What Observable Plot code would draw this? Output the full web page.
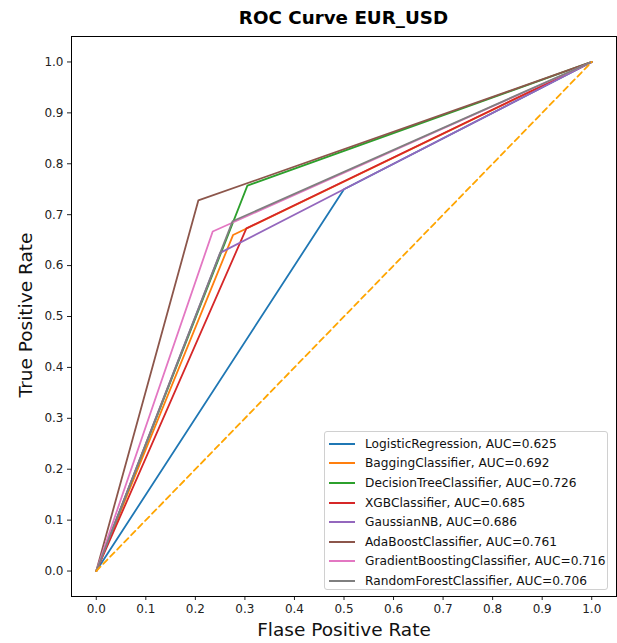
<!DOCTYPE html>
<html>
<head>
<meta charset="utf-8">
<script src="https://cdn.jsdelivr.net/npm/d3@7"></script>
<script src="https://cdn.jsdelivr.net/npm/@observablehq/plot@0.6"></script>
<style>
  body { margin: 0; background: #fff; font-family: "DejaVu Sans", sans-serif; }
  #wrap { position: relative; width: 617px; height: 643px; }
  #title { height: 30px; width: 545px; margin-left: 71px; text-align: center; font-weight: bold; font-size: 18.3px; line-height: 30px; padding-top: 3px; box-sizing: border-box; color: #000; }
  .axlabel { position: absolute; font-size: 18.5px; color: #111; white-space: nowrap; }
  #legend { position: absolute; left: 324px; top: 431px; width: 284px; height: 159px; border: 1px solid #d0d0d0; border-radius: 3px; background: rgba(255,255,255,0.85); box-sizing: border-box; padding: 2px 0 0 0; }
  .row { height: 19.6px; display: flex; align-items: center; font-size: 12.2px; color: #111; }
  .sw { width: 26px; height: 0; border-top: 2px solid; margin-left: 4px; margin-right: 10px; }
</style>
</head>
<body>
<div id="wrap">
  <div id="title">ROC Curve EUR_USD</div>
  <div id="chart"></div>
  <div class="axlabel" id="xlab" style="left:0;width:617px;padding-left:71px;box-sizing:border-box;text-align:center;top:619px;">Flase Positive Rate</div>
  <div class="axlabel" id="ylab" style="left:25px;top:315px;transform:translate(-50%,-50%) rotate(-90deg);">True Positive Rate</div>
  <div id="legend"></div>
</div>
<script>
const models = ["LogisticRegression", "BaggingClassifier", "DecisionTreeClassifier", "XGBClassifier", "GaussianNB", "AdaBoostClassifier", "GradientBoostingClassifier", "RandomForestClassifier"];
const aucs = [0.625, 0.692, 0.726, 0.685, 0.686, 0.761, 0.716, 0.706];
const colors = ["#1f77b4", "#ff7f0e", "#2ca02c", "#d62728", "#9467bd", "#8c564b", "#e377c2", "#7f7f7f"];
const fprs = [
  [0, 0.5, 1],
  [0, 0.276, 1],
  [0, 0.305, 1],
  [0, 0.303, 1],
  [0, 0.25, 0.5, 1],
  [0, 0.206, 1],
  [0, 0.235, 1],
  [0, 0.275, 1]
];
const tprs = [
  [0, 0.75, 1],
  [0, 0.66, 1],
  [0, 0.757, 1],
  [0, 0.673, 1],
  [0, 0.625, 0.75, 1],
  [0, 0.728, 1],
  [0, 0.667, 1],
  [0, 0.687, 1]
];
const diagX = [0, 1];
const diagY = [0, 1];
const ticks = [0, 0.1, 0.2, 0.3, 0.4, 0.5, 0.6, 0.7, 0.8, 0.9, 1.0];

const rows = [];
models.forEach((m, i) => fprs[i].forEach((f, j) => rows.push({model: m, idx: i, fpr: f, tpr: tprs[i][j]})));
const diag = diagX.map((x, i) => ({x, y: diagY[i]}));

const chart = Plot.plot({
  width: 617,
  height: 613,
  marginTop: 6,
  marginBottom: 47,
  marginLeft: 71,
  marginRight: 1,
  style: {fontFamily: "DejaVu Sans, sans-serif", fontSize: "12px", color: "#222", background: "#fff"},
  x: {domain: [-0.05, 1.05]},
  y: {domain: [-0.05, 1.05]},
  marks: [
    Plot.axisX({ticks, tickFormat: ".1f", tickSize: 4, tickPadding: 4, fontSize: 12, label: null}),
    Plot.axisY({ticks, tickFormat: ".1f", tickSize: 4, tickPadding: 4, fontSize: 12, label: null}),
    ...models.map((m, i) => Plot.line(rows.filter(r => r.idx === i), {x: "fpr", y: "tpr", stroke: colors[i], strokeWidth: 1.8})),
    Plot.line(diag, {x: "x", y: "y", stroke: "orange", strokeWidth: 1.8, strokeDasharray: "6,4"}),
    Plot.frame({stroke: "#000", strokeWidth: 1})
  ]
});
document.getElementById("chart").appendChild(chart);

const leg = document.getElementById("legend");
models.forEach((m, i) => {
  const r = document.createElement("div");
  r.className = "row";
  r.innerHTML = `<span class="sw" style="border-color:${colors[i]}"></span><span>${m}, AUC=${aucs[i]}</span>`;
  leg.appendChild(r);
});
</script>
</body>
</html>
